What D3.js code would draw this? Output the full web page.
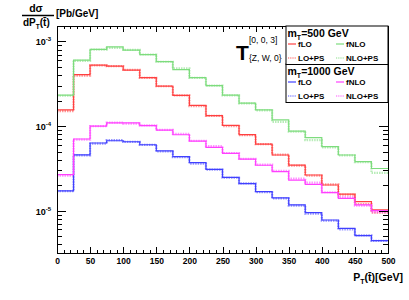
<!DOCTYPE html>
<html>
<head>
<meta charset="utf-8">
<script src="https://cdn.jsdelivr.net/npm/d3@7/dist/d3.min.js"></script>
<style>
  html, body { margin: 0; padding: 0; background: #fff; }
  svg { display: block; font-family: "Liberation Sans", Arial, sans-serif; font-weight: bold; }
  .axis path, .axis line { stroke: #000; shape-rendering: crispEdges; }
</style>
</head>
<body>
<svg id="chart" width="409" height="300"></svg>
<script>
// bin edges: 0..500 in steps of 25
const binEdges = [0, 25, 50, 75, 100, 125, 150, 175, 200, 225, 250, 275, 300, 325, 350, 375, 400, 425, 450, 475, 500];

// mT = 500 GeV
const nlo500 = [2.32e-4, 6.0e-4, 8.05e-4, 8.6e-4, 7.9e-4, 6.98e-4, 5.78e-4, 4.65e-4, 3.74e-4, 3.01e-4,
  2.32e-4, 1.87e-4, 1.55e-4, 1.18e-4, 8.7e-5, 7.3e-5, 5.7e-5, 4.55e-5, 3.8e-5, 3.15e-5];
const nloPs500 = [2.28e-4, 5.9e-4, 8.0e-4, 8.4e-4, 7.95e-4, 7.0e-4, 5.75e-4, 4.8e-4, 3.7e-4, 3.0e-4,
  2.3e-4, 1.85e-4, 1.53e-4, 1.12e-4, 8.6e-5, 6.8e-5, 5.6e-5, 4.5e-5, 3.75e-5, 2.8e-5];
const lo500 = [1.55e-4, 4.06e-4, 5.25e-4, 5.11e-4, 4.58e-4, 3.74e-4, 2.96e-4, 2.3e-4, 1.75e-4, 1.33e-4,
  1.02e-4, 7.9e-5, 6.1e-5, 4.55e-5, 3.46e-5, 2.64e-5, 2.01e-5, 1.57e-5, 1.28e-5, 1.02e-5];
const loPs500 = [1.5e-4, 3.95e-4, 5.2e-4, 5.1e-4, 4.6e-4, 3.7e-4, 2.95e-4, 2.3e-4, 1.72e-4, 1.32e-4,
  1.0e-4, 7.8e-5, 6.1e-5, 4.6e-5, 3.4e-5, 2.6e-5, 2.05e-5, 1.55e-5, 1.2e-5, 9.5e-6];

// mT = 1000 GeV
const nlo1000 = [2.67e-5, 7.03e-5, 1.0e-4, 1.09e-4, 1.09e-4, 1.01e-4, 8.97e-5, 7.89e-5, 6.65e-5, 5.61e-5,
  4.76e-5, 4.06e-5, 3.44e-5, 2.89e-5, 2.3e-5, 2.05e-5, 1.63e-5, 1.4e-5, 1.17e-5, 1.0e-5];
const nloPs1000 = [2.6e-5, 6.9e-5, 1.0e-4, 1.1e-4, 1.07e-4, 1.02e-4, 9.0e-5, 8.1e-5, 6.7e-5, 5.8e-5,
  4.8e-5, 4.1e-5, 3.5e-5, 2.95e-5, 2.4e-5, 2.15e-5, 1.65e-5, 1.45e-5, 1.15e-5, 9.6e-6];
const lo1000 = [1.71e-5, 4.57e-5, 6.3e-5, 6.7e-5, 6.52e-5, 6.01e-5, 5.09e-5, 4.34e-5, 3.69e-5, 3.08e-5,
  2.48e-5, 2.09e-5, 1.68e-5, 1.42e-5, 1.17e-5, 9.46e-6, 7.76e-6, 6.19e-6, 5.07e-6, 4.42e-6];
const loPs1000 = [1.7e-5, 4.5e-5, 6.2e-5, 6.8e-5, 6.5e-5, 6.0e-5, 5.0e-5, 4.3e-5, 3.6e-5, 3.05e-5,
  2.45e-5, 2.1e-5, 1.65e-5, 1.4e-5, 1.15e-5, 9.2e-6, 7.6e-6, 6.0e-6, 5.1e-6, 4.4e-6];

const xTicks = [0, 50, 100, 150, 200, 250, 300, 350, 400, 450, 500];
const yDecades = [-3, -4, -5];

const svg = d3.select('#chart');
const frame = { left: 57, right: 388, top: 26, bottom: 253 };

const x = d3.scaleLinear().domain([0, 500]).range([frame.left, frame.right]);
const y = d3.scaleLog().domain([Math.pow(10, -5.5), 1.52e-3]).range([frame.bottom, frame.top]);

svg.append('clipPath').attr('id', 'clip')
  .append('rect')
  .attr('x', frame.left).attr('y', frame.top)
  .attr('width', frame.right - frame.left).attr('height', frame.bottom - frame.top);

const histLine = d3.line()
  .x(d => x(d[0]))
  .y(d => y(d[1]))
  .curve(d3.curveStepAfter);

function histPoints(vals) {
  const pts = vals.map((v, i) => [binEdges[i], v]);
  pts.push([binEdges[binEdges.length - 1], vals[vals.length - 1]]);
  return pts;
}

const series = [
  { vals: loPs500, color: '#ff4040', dotted: true },
  { vals: nloPs500, color: '#7ddc7d', dotted: true },
  { vals: loPs1000, color: '#4040ff', dotted: true },
  { vals: nloPs1000, color: '#ff40ff', dotted: true },
  { vals: lo500, color: '#ff4040', dotted: false },
  { vals: nlo500, color: '#7ddc7d', dotted: false },
  { vals: lo1000, color: '#4040ff', dotted: false },
  { vals: nlo1000, color: '#ff40ff', dotted: false },
];

const plot = svg.append('g').attr('clip-path', 'url(#clip)');
for (const s of series) {
  plot.append('path')
    .attr('d', histLine(histPoints(s.vals)))
    .attr('fill', 'none')
    .attr('stroke', s.color)
    .attr('stroke-width', s.dotted ? 2.2 : 1.2)
    .attr('stroke-opacity', s.dotted ? 0.55 : 1)
    .attr('stroke-dasharray', s.dotted ? '1.5,1' : null);
}

// frame
svg.append('rect')
  .attr('x', frame.left).attr('y', frame.top)
  .attr('width', frame.right - frame.left).attr('height', frame.bottom - frame.top)
  .attr('fill', 'none').attr('stroke', '#000').attr('stroke-width', 1)
  .attr('shape-rendering', 'crispEdges');

// x axes (bottom + top), ticks pointing inward
const xMinor = d3.range(0, 501, 10).filter(v => v % 50 !== 0);
function xAxis(gen, yPos, labels) {
  svg.append('g').attr('class', 'axis').attr('transform', `translate(0,${yPos})`)
    .call(gen(x).tickValues(xMinor).tickSize(-3).tickFormat(''))
    .call(g => g.select('.domain').remove());
  const g = svg.append('g').attr('class', 'axis').attr('transform', `translate(0,${yPos})`)
    .call(gen(x).tickValues(xTicks).tickSize(-6).tickPadding(5).tickFormat(labels ? d3.format('d') : ''))
    .call(g => g.select('.domain').remove());
  g.selectAll('text').attr('font-size', 8.5).attr('font-weight', 'bold')
    .attr('font-family', '"Liberation Sans", Arial, sans-serif').attr('fill', '#000');
}
xAxis(d3.axisBottom, frame.bottom, true);
xAxis(d3.axisTop, frame.top, false);

// y axes (left + right), log ticks
const yMinor = [];
for (let e = -6; e <= -3; e++) {
  for (let m = 2; m <= 9; m++) {
    const v = m * Math.pow(10, e);
    if (v > y.domain()[0] && v < y.domain()[1]) yMinor.push(v);
  }
}
const yMajor = yDecades.map(e => Math.pow(10, e));
for (const [gen, xPos] of [[d3.axisLeft, frame.left], [d3.axisRight, frame.right]]) {
  svg.append('g').attr('class', 'axis').attr('transform', `translate(${xPos},0)`)
    .call(gen(y).tickValues(yMinor).tickSize(-5).tickFormat(''))
    .call(g => g.select('.domain').remove());
  svg.append('g').attr('class', 'axis').attr('transform', `translate(${xPos},0)`)
    .call(gen(y).tickValues(yMajor).tickSize(-9).tickFormat(''))
    .call(g => g.select('.domain').remove());
}

// y tick labels 10^n
const yLab = svg.append('g');
yDecades.forEach(e => {
  const t = yLab.append('text')
    .attr('x', frame.left - 6).attr('y', y(Math.pow(10, e)) + 4)
    .attr('text-anchor', 'end').attr('font-size', 9).attr('fill', '#000');
  t.append('tspan').text('10');
  t.append('tspan').attr('font-size', 6).attr('dy', -4).text(String(e));
});

// axis titles
const xt = svg.append('text').attr('x', 403).attr('y', 281)
  .attr('text-anchor', 'end').attr('font-size', 10.5).attr('fill', '#000');
xt.append('tspan').text('P');
xt.append('tspan').attr('font-size', 7).attr('dy', 3).text('T');
xt.append('tspan').attr('dy', -3).text('(t\u0304)[GeV]');

svg.append('text').attr('x', 36).attr('y', 12).attr('text-anchor', 'middle')
  .attr('font-size', 10.5).attr('fill', '#000').text('d\u03c3');
svg.append('line').attr('x1', 22).attr('x2', 54).attr('y1', 15.5).attr('y2', 15.5)
  .attr('stroke', '#000').attr('stroke-width', 1.5);
const yt = svg.append('text').attr('x', 23).attr('y', 26).attr('font-size', 10).attr('fill', '#000');
yt.append('tspan').text('dP');
yt.append('tspan').attr('font-size', 6.5).attr('dy', 3).text('T');
yt.append('tspan').attr('dy', -3).text('(t\u0304)');
svg.append('text').attr('x', 56).attr('y', 17).attr('font-size', 10).attr('fill', '#000').text('[Pb/GeV]');

// operator label
svg.append('text').attr('x', 236).attr('y', 60).attr('font-size', 21).attr('fill', '#000').text('T');
svg.append('text').attr('x', 249).attr('y', 43).attr('font-size', 8.5).attr('font-weight', 'normal')
  .attr('fill', '#000').text('[0, 0, 3]');
svg.append('text').attr('x', 249).attr('y', 61).attr('font-size', 8.5).attr('font-weight', 'normal')
  .attr('fill', '#000').text('{Z, W, 0}');

// legends
const legends = [
  { title: '1000', y0: 64, entries: [
    { label: 'fLO', color: '#4040ff', dotted: false }, { label: 'fNLO', color: '#ff40ff', dotted: false },
    { label: 'LO+PS', color: '#4040ff', dotted: true }, { label: 'NLO+PS', color: '#ff40ff', dotted: true }] },
  { title: '500', y0: 26, entries: [
    { label: 'fLO', color: '#ff4040', dotted: false }, { label: 'fNLO', color: '#7ddc7d', dotted: false },
    { label: 'LO+PS', color: '#ff4040', dotted: true }, { label: 'NLO+PS', color: '#7ddc7d', dotted: true }] },
];
const legX = 286, legW = 102, legH = 38.5;
for (const L of legends) {
  const g = svg.append('g').attr('transform', `translate(${legX},${L.y0})`);
  g.append('rect').attr('width', legW).attr('height', legH)
    .attr('fill', '#fff').attr('stroke', '#000').attr('stroke-width', 1);
  const h = g.append('text').attr('x', 1.5).attr('y', 11).attr('font-size', 10.5).attr('fill', '#000');
  h.append('tspan').text('m');
  h.append('tspan').attr('font-size', 7).attr('dy', 3).text('T');
  h.append('tspan').attr('dy', -3).text(`=${L.title} GeV`);
  L.entries.forEach((en, i) => {
    const col = i % 2, row = Math.floor(i / 2);
    const ex = 2 + col * 48, ey = 18 + row * 14;
    g.append('line').attr('x1', ex).attr('x2', ex + 8).attr('y1', ey).attr('y2', ey)
      .attr('stroke', en.color)
      .attr('stroke-width', en.dotted ? 1.6 : 1.2)
      .attr('stroke-opacity', en.dotted ? 0.6 : 1)
      .attr('stroke-dasharray', en.dotted ? '1.2,1' : null);
    g.append('text').attr('x', ex + 10).attr('y', ey + 3).attr('font-size', 8).attr('fill', '#000').text(en.label);
  });
}
</script>
</body>
</html>
